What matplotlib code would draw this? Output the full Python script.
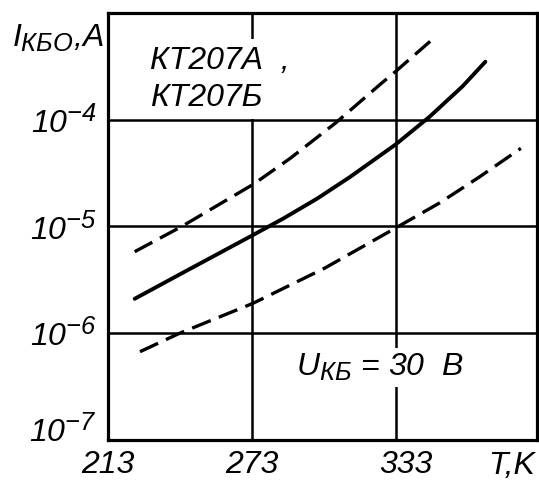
import matplotlib
matplotlib.use("Agg")
import matplotlib.pyplot as plt
import matplotlib.transforms as mtransforms
from matplotlib import _mathtext

# ---- data ----
T_solid = [224.2, 246.3, 273, 286.2, 300.3, 314.0, 333, 347.1, 360.8, 370.3]
I_solid = [2.1e-6, 3.9e-6, 8.2e-6, 1.19e-5, 1.83e-5, 2.92e-5, 5.89e-5, 1.07e-4, 2.06e-4, 3.5e-4]

T_upper = [224.2, 243.8, 273.8, 289.1, 307.8, 326.4, 333, 349.1]
I_upper = [5.8e-6, 1.0e-5, 2.5e-5, 4.37e-5, 9.3e-5, 2.14e-4, 2.85e-4, 5.9e-4]

T_lower = [226.4, 243.0, 273.4, 303.2, 333, 351.2, 367.7, 385.1]
I_lower = [6.7e-7, 1.0e-6, 1.9e-6, 4.05e-6, 9.7e-6, 1.66e-5, 2.9e-5, 5.4e-5]

x_ticks = [213, 273, 333]
x_tick_labels = ["213", "273", "333"]
y_ticks = [1e-7, 1e-6, 1e-5, 1e-4]
y_tick_labels = [r"$10^{-7}$", r"$10^{-6}$", r"$10^{-5}$", r"$10^{-4}$"]

FONT = "Liberation Sans"
_mathtext.SHRINK_FACTOR = 0.8
plt.rcParams["mathtext.fontset"] = "custom"
plt.rcParams["mathtext.rm"] = FONT + ":italic"
plt.rcParams["mathtext.it"] = FONT + ":italic"
plt.rcParams["mathtext.default"] = "it"
plt.rcParams["font.family"] = [FONT, "DejaVu Sans"]
plt.rcParams["font.style"] = "italic"

fig = plt.figure(figsize=(5.39, 4.86), dpi=100)
ax = fig.add_axes([0.200, 0.095, 0.796, 0.878])
ax.set_yscale("log")
ax.set_xlim(213, 391.75)
ax.set_ylim(1e-7, 1e-3)

for s in ax.spines.values():
    s.set_linewidth(2.3)
    s.set_color("black")

ax.set_xticks(x_ticks)
ax.set_xticklabels(x_tick_labels, fontsize=23, style="italic")
ax.set_yticks(y_ticks)
ax.set_yticklabels(y_tick_labels, fontsize=23)
ax.yaxis.set_minor_locator(matplotlib.ticker.NullLocator())
ax.tick_params(length=0)
ax.tick_params(axis="x", pad=7)
ax.tick_params(axis="y", pad=8)

# nudge the hand-placed labels as in the reference
lbl = ax.get_xticklabels()[2]
lbl.set_transform(lbl.get_transform() + mtransforms.ScaledTranslation(10 / 100, 0, fig.dpi_scale_trans))
ylbl = ax.get_yticklabels()[0]
ylbl.set_transform(ylbl.get_transform() + mtransforms.ScaledTranslation(0, 11 / 100, fig.dpi_scale_trans))

for t in [273, 333]:
    ax.axvline(t, color="black", lw=1.8, zorder=1)
for v in [1e-6, 1e-5, 1e-4]:
    ax.axhline(v, color="black", lw=1.8, zorder=1)

ax.plot(T_solid, I_solid, color="black", lw=2.8, solid_capstyle="round",
        solid_joinstyle="round", zorder=3)
ax.plot(T_upper, I_upper, color="black", lw=2.4, dashes=(6, 2.6), zorder=3)
ax.plot(T_lower, I_lower, color="black", lw=2.4, dashes=(6, 2.6), zorder=3)

ax.set_xlabel("T,K", fontsize=23, style="italic")
ax.xaxis.set_label_coords(0.942, -0.027)
ax.xaxis.label.set_va("top")

fig.text(0.022, 0.903, r"$I_{КБО}$,A", fontsize=23, style="italic",
         ha="left", va="baseline")

box = dict(boxstyle="square,pad=0.2", fc="white", ec="none")
ax.text(230.5, 3.01e-4, "КТ207А  ,", fontsize=23, style="italic",
        ha="left", va="baseline", zorder=2, bbox=box)
ax.text(230.5, 1.345e-4, "КТ207Б", fontsize=23, style="italic",
        ha="left", va="baseline", zorder=2, bbox=box)

ax.text(291.5, 3.94e-7, r"$U_{КБ}$ = 30  В", fontsize=23, style="italic",
        ha="left", va="baseline", zorder=2,
        bbox=dict(boxstyle="square,pad=0.12", fc="white", ec="none"))

fig.savefig("out.png", dpi=100, facecolor="white")
